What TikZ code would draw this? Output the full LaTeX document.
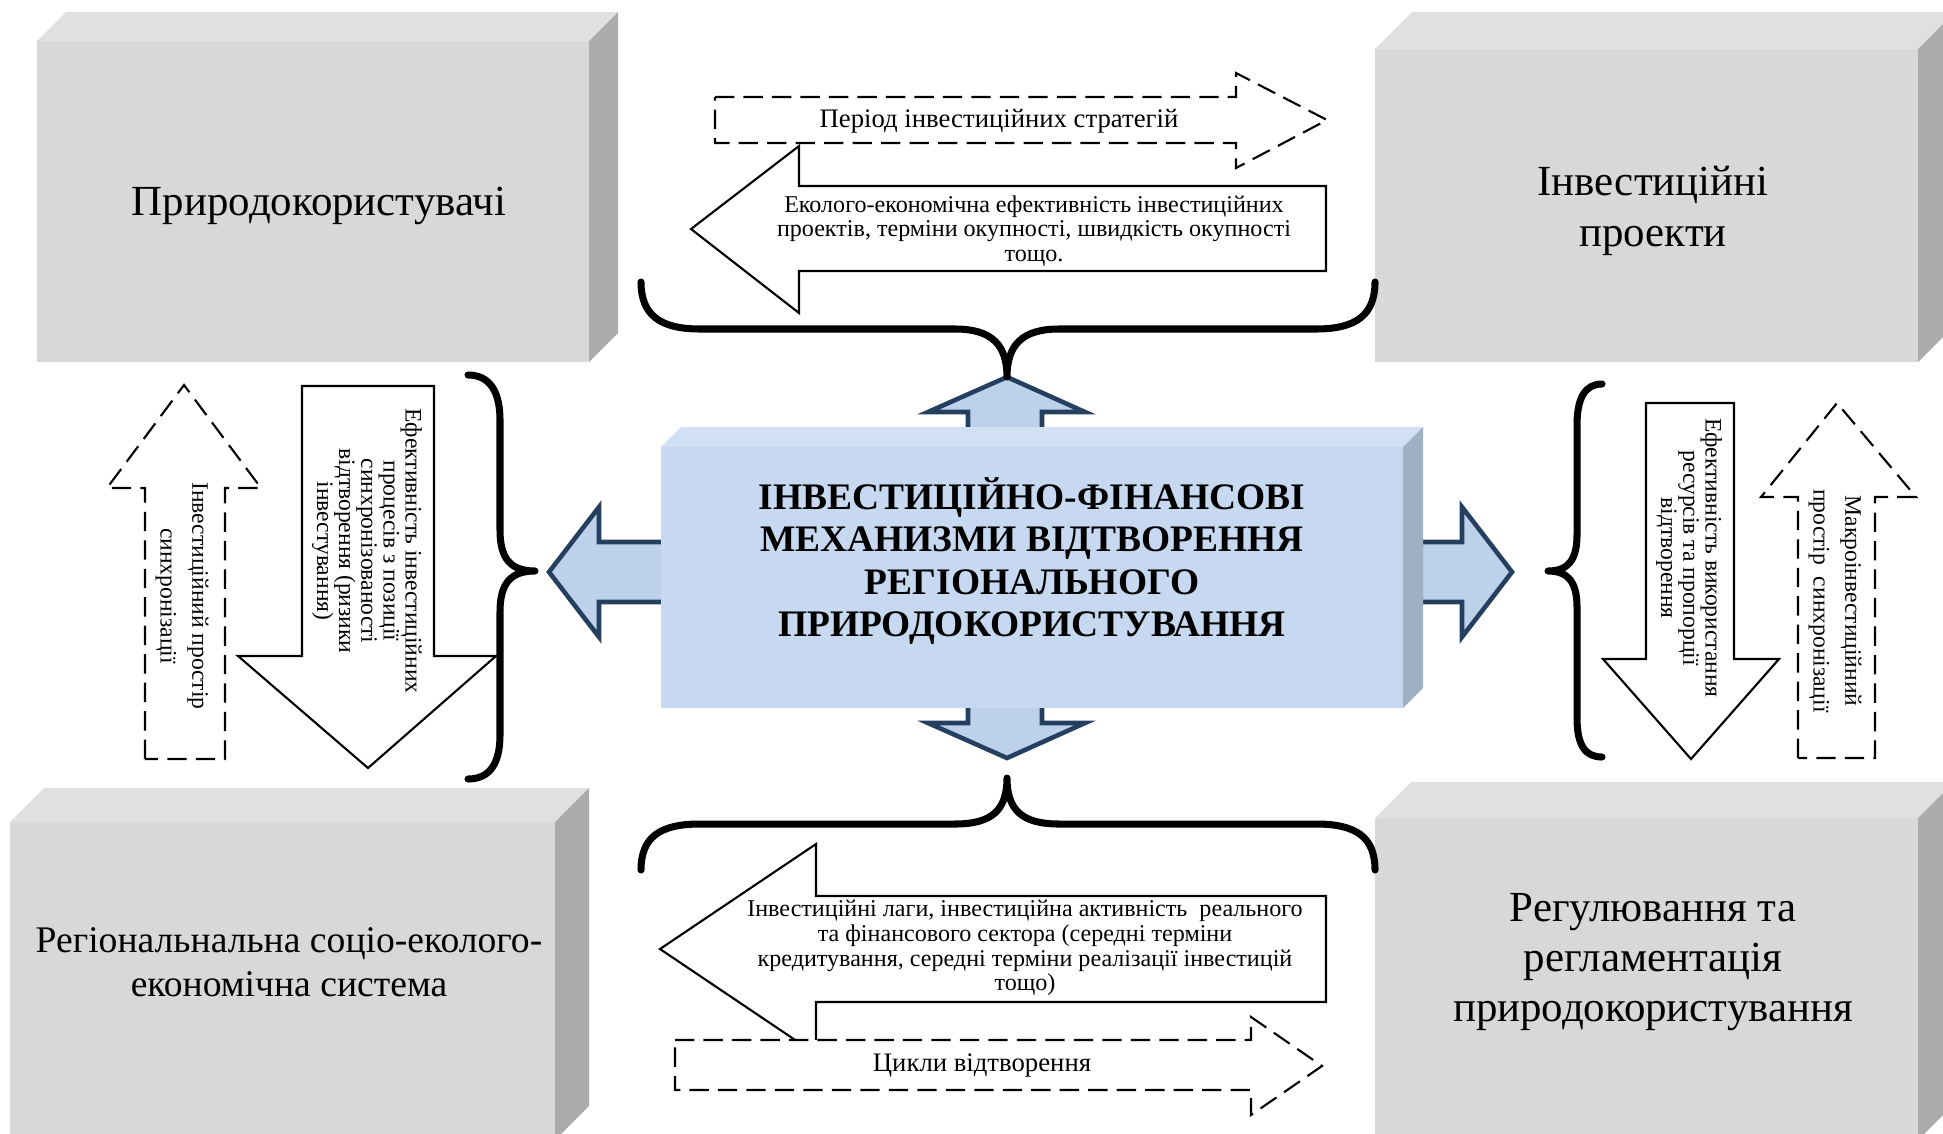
\documentclass[tikz,border=0pt]{standalone}
\usepackage{fontspec}
\setmainfont{Liberation Serif}
\definecolor{grayfront}{HTML}{D8D8D8}
\definecolor{graytop}{HTML}{E0E0E0}
\definecolor{grayside}{HTML}{ABABAB}
\definecolor{bluefront}{HTML}{C6D9F0}
\definecolor{bluetop}{HTML}{D1E0F2}
\definecolor{blueside}{HTML}{9EB0C4}
\definecolor{arrowfill}{HTML}{BED1EA}
\definecolor{navyline}{HTML}{243F60}

% a block with a front face, a top face and a right face
% #1,#2 = top-left of front, #3,#4 = bottom-right of front, #5 = depth
\newcommand{\drawblock}[8]{%
  \fill[#6] (#1,#2) rectangle (#3,#4);
  \fill[#7] (#1,#2) -- ({#1+#5},{#2-#5}) -- ({#3+#5},{#2-#5}) -- (#3,#2) -- cycle;
  \fill[#8] (#3,#2) -- ({#3+#5},{#2-#5}) -- ({#3+#5},{#4-#5}) -- (#3,#4) -- cycle;
}

\tikzset{
  dashedarrow/.style={draw=black, line width=0.6pt, dash pattern=on 5.5pt off 2.6pt, fill=white},
  solidarrow/.style={draw=black, line width=0.6pt, fill=white},
  bracepath/.style={draw=black, line width=2pt, line cap=round, line join=round},
  bluearrow/.style={draw=navyline, line width=1.3pt, fill=arrowfill, line join=miter},
  boxlabel/.style={font=\fontsize{12.2pt}{14.3pt}\selectfont, align=center, inner sep=0pt},
  smallboxlabel/.style={font=\fontsize{10.7pt}{12.5pt}\selectfont, align=center, inner sep=0pt},
  midlabel/.style={font=\fontsize{10.65pt}{12.1pt}\selectfont\bfseries, align=center, inner sep=0pt},
  flowlabel/.style={font=\fontsize{7.6pt}{9pt}\selectfont, align=center, inner sep=0pt},
  notelabel/.style={font=\fontsize{6.85pt}{7pt}\selectfont, align=center, inner sep=0pt},
  sidelabel/.style={font=\fontsize{6.7pt}{6.3pt}\selectfont, align=center, inner sep=0pt, rotate=-90},
  widelabel/.style={font=\fontsize{6.7pt}{9pt}\selectfont, align=center, inner sep=0pt, rotate=-90},
}

\begin{document}
\begin{tikzpicture}[x=0.01cm, y=-0.01cm]
\useasboundingbox (0,0) rectangle (1943,1133);
\clip (0,0) rectangle (1943,1133);

% block arrows leaving the central block
\draw[bluearrow] (968,450) -- (968,412) -- (928,412) -- (1007,377) -- (1085,412) -- (1042,412) -- (1042,450);
\draw[bluearrow] (968,700) -- (968,723) -- (928,723) -- (1007,758) -- (1085,723) -- (1042,723) -- (1042,700);
\draw[bluearrow] (670,542) -- (599,542) -- (599,507) -- (549,572) -- (599,637) -- (599,602) -- (670,602);
\draw[bluearrow] (1410,542) -- (1462,542) -- (1462,507) -- (1512,572) -- (1462,637) -- (1462,602) -- (1410,602);

% central block
\drawblock{661}{447}{1403}{708}{20}{bluefront}{bluetop}{blueside}

% corner blocks
\drawblock{37}{41}{589}{362}{29}{grayfront}{graytop}{grayside}
\drawblock{1375}{49}{1918}{362}{37}{grayfront}{graytop}{grayside}
\drawblock{10}{822}{555}{1140}{34}{grayfront}{graytop}{grayside}
\drawblock{1375}{818}{1918}{1140}{36}{grayfront}{graytop}{grayside}

% upper pair of flow arrows
\draw[solidarrow] (799,186) -- (1326,186) -- (1326,271) -- (799,271) -- (799,313) -- (691,229) -- (799,146) -- cycle;
\draw[dashedarrow] (715,97) -- (1236,97) -- (1236,73) -- (1327,120) -- (1236,168) -- (1236,143) -- (715,143) -- cycle;

% lower pair of flow arrows
\draw[solidarrow] (816,896) -- (1326,896) -- (1326,1002) -- (816,1002) -- (816,1054) -- (660,949) -- (816,844) -- cycle;
\draw[dashedarrow] (675,1040) -- (1251,1040) -- (1251,1017) -- (1322,1066) -- (1251,1115) -- (1251,1090) -- (675,1090) -- cycle;

% vertical arrows on the left
\draw[dashedarrow] (145,759) -- (145,488) -- (107,488) -- (184,385) -- (261,488) -- (225,488) -- (225,759) -- cycle;
\draw[solidarrow] (302,386) -- (434,386) -- (434,656) -- (496,656) -- (368,768) -- (238,656) -- (302,656) -- cycle;

% vertical arrows on the right
\draw[solidarrow] (1646,403) -- (1734,403) -- (1734,659) -- (1779,659) -- (1691,759) -- (1603,659) -- (1646,659) -- cycle;
\draw[dashedarrow] (1798,758) -- (1798,497) -- (1761,497) -- (1837,403) -- (1916,497) -- (1875,497) -- (1875,758) -- cycle;

% braces
\draw[bracepath] (641,282) .. controls (641,315) and (660,329) .. (700,329) -- (955,329)
  .. controls (992,329) and (1007,345) .. (1007,377)
  .. controls (1007,345) and (1022,329) .. (1059,329) -- (1316,329)
  .. controls (1356,329) and (1375,315) .. (1375,282);
\draw[bracepath] (641,870) .. controls (641,837) and (660,824) .. (700,824) -- (955,824)
  .. controls (992,824) and (1007,810) .. (1007,778)
  .. controls (1007,810) and (1022,824) .. (1059,824) -- (1316,824)
  .. controls (1356,824) and (1375,837) .. (1375,870);
\draw[bracepath] (468,375) .. controls (490,375) and (500,392) .. (500,420) -- (500,530)
  .. controls (500,558) and (510,571) .. (535,571)
  .. controls (510,571) and (500,584) .. (500,612) -- (500,735)
  .. controls (500,763) and (490,779) .. (468,779);
\draw[bracepath] (1602,384) .. controls (1585,384) and (1577,398) .. (1577,425) -- (1577,535)
  .. controls (1577,560) and (1568,571) .. (1548,571)
  .. controls (1568,571) and (1577,582) .. (1577,607) -- (1577,718)
  .. controls (1577,745) and (1585,757) .. (1602,757);

% labels
\node[midlabel] (core) at (1032,561) {ІНВЕСТИЦІЙНО-ФІНАНСОВІ\\МЕХАНИЗМИ ВІДТВОРЕННЯ\\РЕГІОНАЛЬНОГО\\ПРИРОДОКОРИСТУВАННЯ};
\node[boxlabel] (users) at (319,206) {Природокористувачі};
\node[boxlabel] (projects) at (1653,211) {Інвестиційні\\проекти};
\node[smallboxlabel] (system) at (289,962) {Регіональнальна соціо-еколого-\\економічна система};
\node[boxlabel] (regulation) at (1653,962) {Регулювання та\\регламентація\\природокористування};

\node[flowlabel] (period) at (999,121) {Період інвестиційних стратегій};
\node[notelabel] (efficiency) at (1034,231) {Еколого-економічна ефективність інвестиційних\\проектів, терміни окупності, швидкість окупності\\тощо.};
\node[notelabel] (lags) at (1025,948) {Інвестиційні лаги, інвестиційна активність\ \ реального\\та фінансового сектора (середні терміни\\кредитування, середні терміни реалізації інвестицій\\тощо)};
\node[flowlabel] (cycles) at (982,1065) {Цикли відтворення};

\node[widelabel] (space) at (182,596) {Інвестиційний простір\\синхронізації};
\node[sidelabel] (processes) at (367,551) {Ефективність інвестиційних\\процесів з позиції\\синхронізованості\\відтворення (ризики\\інвестування)};
\node[sidelabel] (resources) at (1689,558) {Ефективність використання\\ресурсів та пропорції\\відтворення};
\node[widelabel] (macro) at (1835,601) {Макроінвестиційний\\простір\ \ синхронізації};
\end{tikzpicture}
\end{document}
